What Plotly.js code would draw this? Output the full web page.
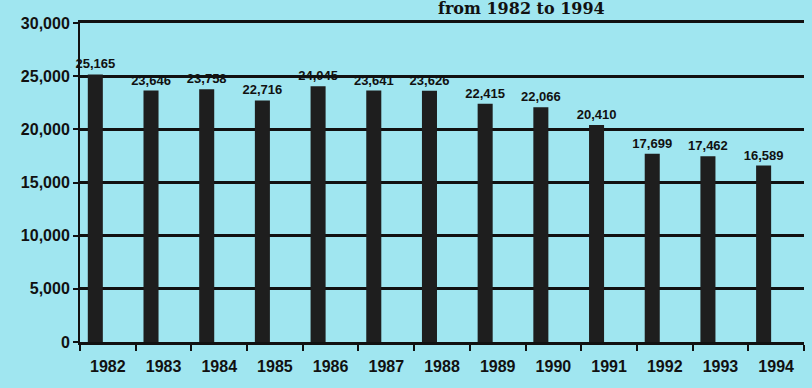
<!DOCTYPE html>
<html>
<head>
<meta charset="utf-8">
<script src="https://cdn.plot.ly/plotly-3.0.1.min.js"></script>
<style>html,body{margin:0;padding:0;background:#a0e6f0;}#chart{width:812px;height:388px;}</style>
</head>
<body>
<div id="chart"></div>
<script>
const years = ['1982','1983','1984','1985','1986','1987','1988','1989','1990','1991','1992','1993','1994'];
const values = [25165, 23646, 23758, 22716, 24045, 23641, 23626, 22415, 22066, 20410, 17699, 17462, 16589];
const valueLabels = ['25,165','23,646','23,758','22,716','24,045','23,641','23,626','22,415','22,066','20,410','17,699','17,462','16,589'];
const yTickVals = [0, 5000, 10000, 15000, 20000, 25000, 30000];
const yTickText = ['0','5,000','10,000','15,000','20,000','25,000','30,000'];
const titleText = 'from 1982 to 1994';

const bold = {family: '"Liberation Sans", Arial, sans-serif', weight: 'bold', color: '#111'};

Plotly.newPlot('chart', [{
  type: 'bar',
  x: years,
  y: values,
  text: valueLabels,
  textposition: 'outside',
  constraintext: 'none',
  textfont: Object.assign({size: 13}, bold),
  width: 0.27,
  offset: -0.36,
  marker: {color: '#1e1e1e'},
  cliponaxis: false,
  hoverinfo: 'skip'
}], {
  width: 812, height: 388,
  paper_bgcolor: '#a0e6f0',
  plot_bgcolor: '#a0e6f0',
  margin: {l: 80, r: 8, t: 23, b: 46},
  annotations: [{text: titleText, xref: 'paper', yref: 'paper', x: 0.61, y: 1.0, yshift: 3,
                 xanchor: 'center', yanchor: 'bottom', showarrow: false,
                 font: {family: '"DejaVu Serif", serif', weight: 'bold', size: 16, color: '#111'}}],
  showlegend: false,
  xaxis: {
    type: 'category',
    showgrid: false,
    showline: true, linecolor: '#111', linewidth: 3, mirror: true,
    ticks: 'outside', tickson: 'boundaries', ticklen: 6, tickwidth: 2, tickcolor: '#111',
    tickfont: Object.assign({size: 16}, bold),
    ticklabelstandoff: 8
  },
  yaxis: {
    range: [0, 30000],
    tickvals: yTickVals, ticktext: yTickText,
    showgrid: true, gridcolor: '#111', gridwidth: 3,
    showline: true, linecolor: '#111', linewidth: 2,
    ticks: 'outside', ticklen: 5, tickwidth: 2, tickcolor: '#111',
    tickfont: Object.assign({size: 16}, bold),
    zeroline: false
  }
}, {displayModeBar: false, staticPlot: true});
</script>
</body>
</html>
